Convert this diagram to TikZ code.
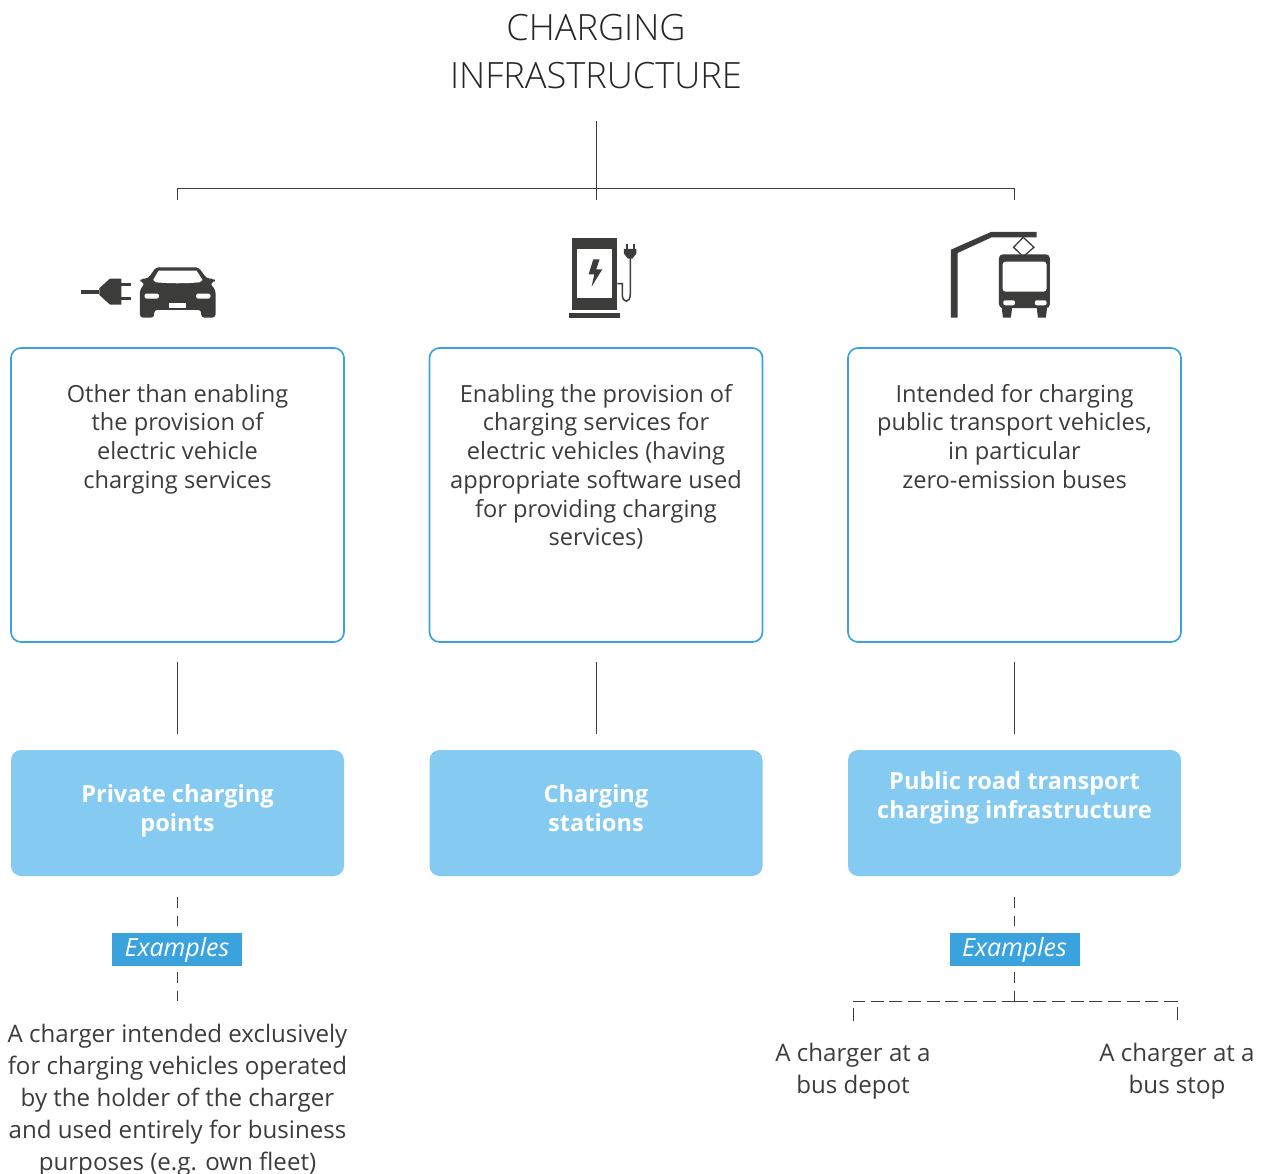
\documentclass[tikz,border=0pt]{standalone}
\usepackage{fontspec}
\setmainfont{Open Sans}
\newfontfamily\titlefont{Open Sans Light}
\usetikzlibrary{positioning}

\definecolor{inkgrey}{HTML}{3C3C3B}
\definecolor{boxblue}{HTML}{3AA3DD}
\definecolor{fillblue}{HTML}{85CAF0}

\tikzset{
  conn/.style={draw=inkgrey, line width=1pt},
  dashconn/.style={conn, dash pattern=on 11pt off 7.5pt},
  forkconn/.style={conn, dash pattern=on 13pt off 5.7pt},
  infobox/.style={draw=boxblue, line width=1.7pt, rounded corners=10pt,
    minimum width=333pt, minimum height=294pt},
  infotext/.style={anchor=north, align=center, text=inkgrey, inner sep=0pt,
    font=\fontsize{23.6}{28.7}\selectfont},
  fillbox/.style={fill=fillblue, rounded corners=10pt, minimum width=333pt,
    minimum height=126pt, inner sep=0pt},
  filltext/.style={inner sep=0pt, align=center, text=white,
    font=\fontsize{23.6}{28.7}\selectfont\bfseries},
  examplebox/.style={fill=boxblue, minimum width=130pt, minimum height=33pt,
    inner sep=0pt, text=white, font=\fontsize{25}{28}\selectfont\itshape},
  exampletext/.style={align=center, text=inkgrey, inner sep=0pt,
    font=\fontsize{24.1}{32}\selectfont},
  icon/.style={fill=inkgrey, draw=none},
  iconcut/.style={fill=white, draw=none},
}

\def\dA{177.5}
\def\dB{596}
\def\dC{1014.5}

\begin{document}
\begin{tikzpicture}[x=1pt, y=-1pt]
    \useasboundingbox (0,0) rectangle (1269,1174);

    %% title and top fork
    \node[align=center, text=black!85, inner sep=0pt,
          font=\fontsize{36.2}{48}\titlefont] (Title) at (\dB, 52) {CHARGING\\INFRASTRUCTURE};
    \coordinate (FA) at (\dA, 188.5);
    \coordinate (FB) at (\dB, 188.5);
    \coordinate (FC) at (\dC, 188.5);
    \coordinate (TA) at (\dA, 200);
    \coordinate (TB) at (\dB, 200);
    \coordinate (TC) at (\dC, 200);
    \draw[conn, shorten <=32pt] (Title.south) -- (TB);
    \draw[conn] (TA) -- (FA) -- (FC) -- (TC);

    %% text boxes
    \node[infobox] (BoxA) at (\dA, 495) {};
    \node[infobox] (BoxB) at (\dB, 495) {};
    \node[infobox] (BoxC) at (\dC, 495) {};

    \node[infotext] (TextA) at (\dA, 384) {Other than enabling\\the provision of\\electric vehicle\\charging services};
    \node[infotext] (TextB) at (\dB, 384) {Enabling the provision of\\charging services for\\electric vehicles (having\\appropriate software used\\for providing charging\\services)};
    \node[infotext] (TextC) at (\dC, 384) {Intended for charging\\public transport vehicles,\\in particular\\zero-emission buses};

    %% filled boxes
    \node[fillbox] (FillA) at (\dA, 813) {};
    \node[fillbox] (FillB) at (\dB, 813) {};
    \node[fillbox] (FillC) at (\dC, 813) {};
    \node[filltext] (LabelA) at (\dA, 811) {\strut Private charging\\\strut points};
    \node[filltext] (LabelB) at (\dB, 811) {\strut Charging\\\strut stations};
    \node[filltext] (LabelC) at (\dC, 798) {\strut Public road transport\\\strut charging infrastructure};

    \draw[conn, shorten <=19pt, shorten >=16pt] (BoxA.south) -- (FillA.north);
    \draw[conn, shorten <=19pt, shorten >=16pt] (BoxB.south) -- (FillB.north);
    \draw[conn, shorten <=19pt, shorten >=16pt] (BoxC.south) -- (FillC.north);

    %% examples
    \node[examplebox] (ExA) at (177, 949.5) {Examples};
    \node[examplebox] (ExC) at (\dC, 949.5) {Examples};
    \coordinate (EndA) at (\dA, 1001);
    \coordinate (EndC) at (\dC, 1001);
    \coordinate (EndL) at (853, 1001);
    \coordinate (EndR) at (1177, 1001);
    \coordinate (DropL) at (853, 1022);
    \coordinate (DropR) at (1177, 1022);

    \draw[dashconn, shorten <=21pt, shorten >=7pt] (FillA.south) -- (ExA.north -| FillA.south);
    \draw[dashconn, shorten <=21pt, shorten >=7pt] (FillC.south) -- (ExC.north);
    \draw[dashconn, shorten <=6pt] (ExA.south -| EndA) -- (EndA);
    \draw[dashconn, shorten <=6pt] (ExC.south) -- (EndC);
    \draw[forkconn] (EndC) -- (EndL) -- (DropL);
    \draw[forkconn] (EndC) -- (EndR) -- (DropR);

    \node[exampletext] (CaseA) at (\dA, 1100) {A charger intended exclusively\\for charging vehicles operated\\by the holder of the charger\\and used entirely for business\\purposes (e.g. own fleet)};
    \node[exampletext] (CaseL) at (853, 1071) {A charger at a\\bus depot};
    \node[exampletext] (CaseR) at (1177, 1071) {A charger at a\\bus stop};

    %% plug and car
    \begin{scope}[shift={(60,220)}, x=0.333pt, y=-0.333pt]
      \fill[icon] (63,209) rectangle (118,222);
      \fill[icon] (118,205) -- (150,176) -- (184,176) -- (184,254) -- (150,254) -- (118,225) -- cycle;
      \fill[icon] (184,190) rectangle (212,199);
      \fill[icon] (184,232) rectangle (212,241);
      \fill[icon, rounded corners=3pt] (288,142) -- (416,142) -- (440,175) -- (465,177) -- (465,186) -- (450,190)
        -- (467,210) -- (467,293) -- (424,293) -- (424,270) -- (283,270) -- (283,293) -- (240,293)
        -- (240,210) -- (255,190) -- (241,186) -- (241,177) -- (265,175) -- cycle;
      \fill[iconcut] (296,152) -- (410,152) -- (428,180) -- (420,187) .. controls (380,191) and (325,191) .. (288,187) -- (280,180) -- cycle;
      \fill[iconcut, rounded corners=2pt] (254,221) rectangle (297,236);
      \fill[iconcut, rounded corners=2pt] (409,221) rectangle (452,236);
      \fill[iconcut] (327,250) rectangle (379,264);
    \end{scope}

    %% charging station
    \begin{scope}[shift={(550,225)}, x=0.333pt, y=-0.333pt]
      \fill[icon] (67,38) rectangle (202,256);
      \fill[iconcut] (82,72) rectangle (187,220);
      \fill[icon] (57,264) rectangle (210,278);
      \fill[icon] (130,103) -- (116,148) -- (133,148) -- (125,185) -- (157,133) -- (139,133) -- (149,103) -- cycle;
      \draw[inkgrey, line width=1.5pt] (202,176) -- (217,176) -- (217,208)
        .. controls (217,236) and (241,236) .. (241,208) -- (241,95);
      \fill[icon] (222,72) -- (259,72) -- (259,86) -- (247,101) -- (234,101) -- (222,86) -- cycle;
      \fill[icon] (227,58) rectangle (233,72);
      \fill[icon] (248,58) rectangle (254,72);
    \end{scope}

    %% bus under the wire
    \begin{scope}[shift={(935,225)}, x=0.333pt, y=-0.333pt]
      \fill[icon] (48,74) -- (168,21) -- (305,21) -- (305,37) -- (170,37) -- (68,84) -- (68,278) -- (48,278) -- cycle;
      \draw[inkgrey, line width=1.3pt] (265,37) -- (297,67) -- (265,95) -- (236,67) -- cycle;
      \fill[icon, rounded corners=4pt] (192,88) rectangle (345,250);
      \fill[icon] (200,245) -- (232,245) -- (228,278) -- (204,278) -- cycle;
      \fill[icon] (305,245) -- (337,245) -- (333,278) -- (309,278) -- cycle;
      \fill[iconcut, rounded corners=3pt] (203,110) rectangle (335,200);
      \fill[iconcut, rounded corners=2pt] (205,226) rectangle (240,241);
      \fill[iconcut, rounded corners=2pt] (300,226) rectangle (335,241);
    \end{scope}

  \end{tikzpicture}
\end{document}
